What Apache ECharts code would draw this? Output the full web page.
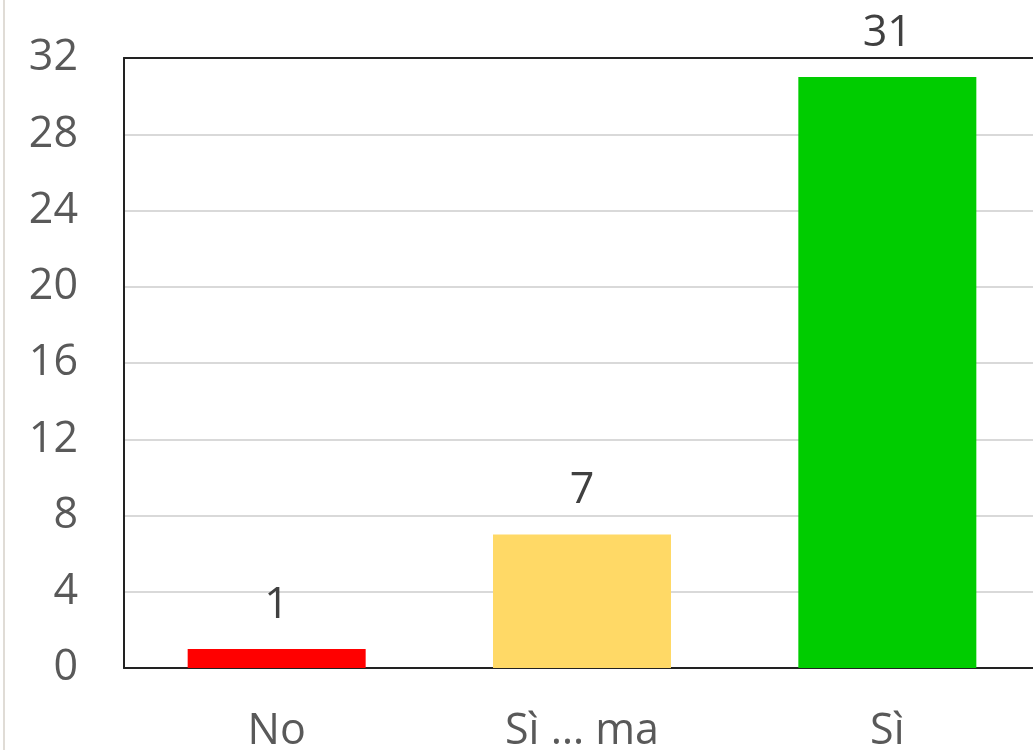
<!DOCTYPE html>
<html><head><meta charset="utf-8">
<script src="https://cdn.jsdelivr.net/npm/echarts@6/dist/echarts.min.js"></script>
<style>html,body{margin:0;padding:0;background:#fff}#c{width:1033px;height:750px}</style>
</head><body><div id="c"></div>
<script>
var categories = ['No', 'Sì … ma', 'Sì'];
var values = [1, 7, 31];
var colors = ['#ff0000', '#ffd966', '#00cc00'];
var yTicks = [0, 4, 8, 12, 16, 20, 24, 28, 32];

var chart = echarts.init(document.getElementById('c'));
var font = 'Open Sans, Liberation Sans, sans-serif';
chart.setOption({
  animation: false,
  graphic: [{type: 'line', shape: {x1: 4, y1: 0, x2: 4, y2: 750}, style: {stroke: '#e0dcd6', lineWidth: 2}}],
  grid: {left: 124, top: 58, width: 916, height: 610, containLabel: false, outerBoundsMode: 'none'},
  xAxis: [{
    type: 'category', data: categories,
    axisLine: {lineStyle: {color: '#222', width: 2}},
    axisTick: {show: false},
    axisLabel: {color: '#595959', fontSize: 43, fontFamily: font, margin: 42}
  }, {
    type: 'category', data: categories, position: 'top',
    axisLine: {show: true, lineStyle: {color: '#222', width: 2}},
    axisTick: {show: false}, axisLabel: {show: false}
  }],
  yAxis: {
    type: 'value', min: 0, max: yTicks[yTicks.length - 1], interval: 4,
    axisLine: {show: true, lineStyle: {color: '#222', width: 2}},
    axisTick: {show: false},
    splitLine: {lineStyle: {color: '#d9d9d9', width: 2}},
    axisLabel: {color: '#595959', fontSize: 43, fontFamily: font, margin: 46}
  },
  series: [{
    type: 'bar', barWidth: 178, xAxisIndex: 0,
    data: values.map(function (v, i) { return {value: v, itemStyle: {color: colors[i]}}; }),
    label: {show: true, position: 'top', distance: 22, color: '#404040', fontSize: 43, fontFamily: font}
  }]
});
</script></body></html>
